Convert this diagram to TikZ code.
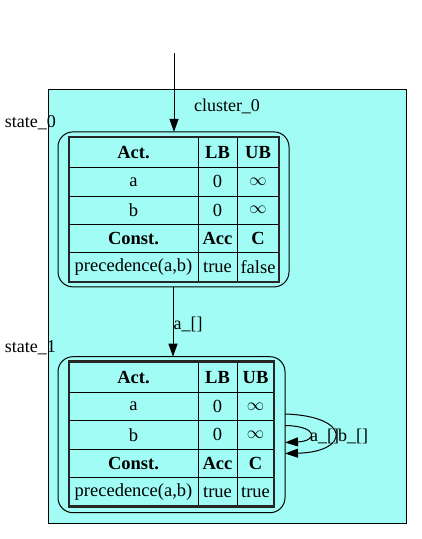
\documentclass[tikz,border=0pt]{standalone}
\usepackage{fontspec}
\setmainfont{Liberation Serif}
\usetikzlibrary{arrows.meta}
\definecolor{clusterfill}{RGB}{160,252,244}
\tikzset{
  every node/.style={font=\fontsize{18}{20}\selectfont},
  cell/.style={draw=black, line width=1pt, inner sep=0pt, outer sep=0pt,
    font=\fontsize{18.5}{20}\selectfont},
  tableborder/.style={draw=black!85, line width=2.6pt},
  statebox/.style={draw=black, line width=1pt, rounded corners=15pt, inner sep=0pt, outer sep=0pt},
  edge/.style={draw=black, line width=1pt, -{Triangle[length=13pt,width=9pt]}},
  lbl/.style={inner sep=0pt}
}
\begin{document}
\begin{tikzpicture}[x=1pt,y=-1pt]
\useasboundingbox[fill=white] (0,0) rectangle (422,539);
% cluster
\draw[fill=clusterfill, line width=1pt] (48,89) rectangle (406,523);
\node[lbl] (cl) at (227,106) {cluster\_0};

% state_0
\node[statebox, minimum width=231pt, minimum height=155pt] (state0) at (173.5,209.4) {};
\node[lbl, anchor=east] (lab0) at (56,123) {state\_0};
\node[cell, minimum width=129pt, minimum height=30.7pt] (s0a1) at (133.5,152.35) {\bfseries Act.};
\node[cell, minimum width=39pt, minimum height=30.7pt] (s0b1) at (217.5,152.35) {\bfseries LB};
\node[cell, minimum width=42pt, minimum height=30.7pt] (s0c1) at (258,152.35) {\bfseries UB};
\node[cell, minimum width=129pt, minimum height=28.3pt] (s0a2) at (133.5,181.85) {a};
\node[cell, minimum width=39pt, minimum height=28.3pt] (s0b2) at (217.5,181.85) {0};
\node[cell, minimum width=42pt, minimum height=28.3pt] (s0c2) at (258,181.85) {$\infty$};
\node[cell, minimum width=129pt, minimum height=28pt] (s0a3) at (133.5,210) {b};
\node[cell, minimum width=39pt, minimum height=28pt] (s0b3) at (217.5,210) {0};
\node[cell, minimum width=42pt, minimum height=28pt] (s0c3) at (258,210) {$\infty$};
\node[cell, minimum width=129pt, minimum height=28.7pt] (s0a4) at (133.5,238.35) {\bfseries Const.};
\node[cell, minimum width=39pt, minimum height=28.7pt] (s0b4) at (217.5,238.35) {\bfseries Acc};
\node[cell, minimum width=42pt, minimum height=28.7pt] (s0c4) at (258,238.35) {\bfseries C};
\node[cell, minimum width=129pt, minimum height=29.3pt] (s0a5) at (133.5,267.35) {precedence(a,b)};
\node[cell, minimum width=39pt, minimum height=29.3pt] (s0b5) at (217.5,267.35) {true};
\node[cell, minimum width=42pt, minimum height=29.3pt] (s0c5) at (258,267.35) {false};
\draw[tableborder] (s0a1.north west) rectangle (s0c5.south east);

% state_1
\node[statebox, minimum width=227pt, minimum height=156pt] (state1) at (171.5,434.7) {};
\node[lbl, anchor=east] (lab1) at (56,348) {state\_1};
\node[cell, minimum width=129pt, minimum height=31pt] (s1a1) at (133.5,377.2) {\bfseries Act.};
\node[cell, minimum width=39pt, minimum height=31pt] (s1b1) at (217.5,377.2) {\bfseries LB};
\node[cell, minimum width=37pt, minimum height=31pt] (s1c1) at (255.5,377.2) {\bfseries UB};
\node[cell, minimum width=129pt, minimum height=28pt] (s1a2) at (133.5,406.7) {a};
\node[cell, minimum width=39pt, minimum height=28pt] (s1b2) at (217.5,406.7) {0};
\node[cell, minimum width=37pt, minimum height=28pt] (s1c2) at (255.5,406.7) {$\infty$};
\node[cell, minimum width=129pt, minimum height=28.3pt] (s1a3) at (133.5,434.85) {b};
\node[cell, minimum width=39pt, minimum height=28.3pt] (s1b3) at (217.5,434.85) {0};
\node[cell, minimum width=37pt, minimum height=28.3pt] (s1c3) at (255.5,434.85) {$\infty$};
\node[cell, minimum width=129pt, minimum height=28.7pt] (s1a4) at (133.5,463.35) {\bfseries Const.};
\node[cell, minimum width=39pt, minimum height=28.7pt] (s1b4) at (217.5,463.35) {\bfseries Acc};
\node[cell, minimum width=37pt, minimum height=28.7pt] (s1c4) at (255.5,463.35) {\bfseries C};
\node[cell, minimum width=129pt, minimum height=29pt] (s1a5) at (133.5,492.2) {precedence(a,b)};
\node[cell, minimum width=39pt, minimum height=29pt] (s1b5) at (217.5,492.2) {true};
\node[cell, minimum width=37pt, minimum height=29pt] (s1c5) at (255.5,492.2) {true};
\draw[tableborder] (s1a1.north west) rectangle (s1c5.south east);

% edges
\coordinate (start) at (174,53);
\draw[edge] (start) -- (state0.north -| start);
\draw[edge] (state0.south -| 173,0) -- (state1.north -| 173,0);
\node[lbl, anchor=west] (e01) at (173.5,324) {a\_[]};

\draw[edge] (state1.east |- 0,414) .. controls (352,416) and (350,452) .. (state1.east |- 0,453.5);
\draw[edge] (state1.east |- 0,425.5) .. controls (318,426) and (318,441) .. (state1.east |- 0,442.5);
\node[lbl, anchor=west] (la) at (310,436.5) {a\_[]};
\node[lbl, anchor=west] (lb) at (338,436.5) {b\_[]};
\end{tikzpicture}
\end{document}
